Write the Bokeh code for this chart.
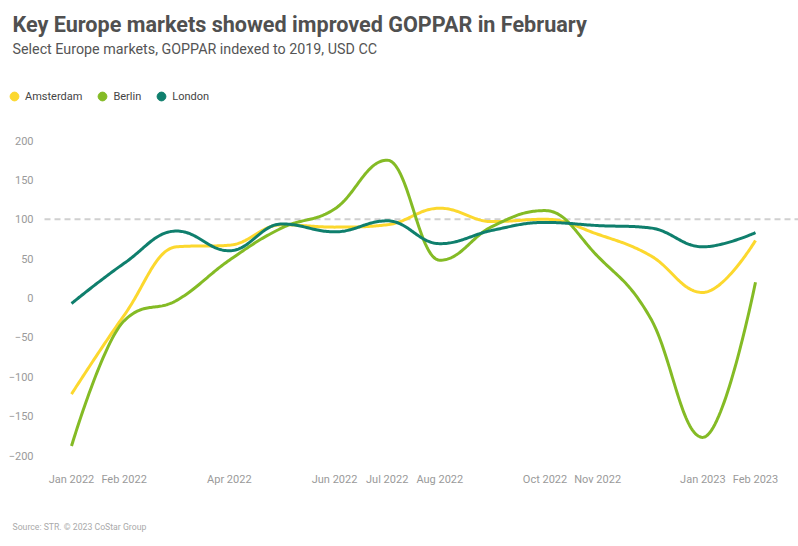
import numpy as np
from bokeh.plotting import figure
from bokeh.models import (Range1d, FixedTicker, Legend, LegendItem, Label)
from bokeh.embed import file_html
from bokeh.resources import INLINE

# ---- data ----
months = ["Jan 2022", "Feb 2022", "Mar 2022", "Apr 2022", "May 2022", "Jun 2022",
          "Jul 2022", "Aug 2022", "Sep 2022", "Oct 2022", "Nov 2022", "Dec 2022",
          "Jan 2023", "Feb 2023"]
amsterdam = [-122, -22, 65, 67, 93, 90, 93, 114, 97, 100, 81, 54, 7, 73]
berlin = [-188, -29, -3, 48, 89, 113, 175, 48, 91, 111, 53, -25, -177, 20]
london = [-7, 44, 85, 60, 94, 84, 98, 69, 86, 96, 92, 89, 65, 83]
shown_tick_labels = ["Jan 2022", "Feb 2022", "Apr 2022", "Jun 2022", "Jul 2022",
                     "Aug 2022", "Oct 2022", "Nov 2022", "Jan 2023", "Feb 2023"]
y_ticks = [-200, -150, -100, -50, 0, 50, 100, 150, 200]
reference_level = 100

series = [("Amsterdam", amsterdam, "#FCD82E"),
          ("Berlin", berlin, "#84BB25"),
          ("London", london, "#0F7F6D")]

TITLE = "Key Europe markets showed improved GOPPAR in February"
SUBTITLE = "Select Europe markets, GOPPAR indexed to 2019, USD CC"
SOURCE = "Source: STR. \u00a9 2023 CoStar Group"

FONT = "Roboto"


def spline(xs, ys, n=40):
    """Highcharts-style spline through the points."""
    sm = 1.5
    den = sm + 1
    N = len(xs)
    lc = [None] * N
    rc = [None] * N
    for i in range(1, N - 1):
        px, py = xs[i], ys[i]
        lx, ly = xs[i - 1], ys[i - 1]
        nx, ny = xs[i + 1], ys[i + 1]
        lcx = (sm * px + lx) / den
        lcy = (sm * py + ly) / den
        rcx = (sm * px + nx) / den
        rcy = (sm * py + ny) / den
        corr = ((rcy - lcy) * (rcx - px)) / (rcx - lcx) + py - rcy
        lcy += corr
        rcy += corr
        if lcy > ly and lcy > py:
            lcy = max(ly, py); rcy = 2 * py - lcy
        elif lcy < ly and lcy < py:
            lcy = min(ly, py); rcy = 2 * py - lcy
        if rcy > ny and rcy > py:
            rcy = max(ny, py); lcy = 2 * py - rcy
        elif rcy < ny and rcy < py:
            rcy = min(ny, py); lcy = 2 * py - rcy
        lc[i] = (lcx, lcy)
        rc[i] = (rcx, rcy)
    outx, outy = [xs[0]], [ys[0]]
    t = np.linspace(0, 1, n)[1:]
    for i in range(1, N):
        p0 = (xs[i - 1], ys[i - 1])
        c0 = rc[i - 1] if rc[i - 1] is not None else p0
        p3 = (xs[i], ys[i])
        c1 = lc[i] if lc[i] is not None else p3
        bx = (1 - t) ** 3 * p0[0] + 3 * (1 - t) ** 2 * t * c0[0] + 3 * (1 - t) * t ** 2 * c1[0] + t ** 3 * p3[0]
        by = (1 - t) ** 3 * p0[1] + 3 * (1 - t) ** 2 * t * c0[1] + 3 * (1 - t) * t ** 2 * c1[1] + t ** 3 * p3[1]
        outx.extend(bx.tolist())
        outy.extend(by.tolist())
    return outx, outy


# ---- geometry (page pixels) ----
W, H = 798, 546
PLOT_LEFT, PLOT_BOTTOM = 44, 462     # where the axes sit
PX_MONTH = 52.615                    # pixels per month
X0_PIX = 71                          # first month position
PX_UNIT = 0.7875                     # pixels per index point
Y200_PIX = 140                       # position of the value 200


def xval(px):
    return (px - X0_PIX) / PX_MONTH


def yval(py):
    return 200 - (py - Y200_PIX) / PX_UNIT


p = figure(width=W, height=H, output_backend="svg", toolbar_location=None,
           x_range=Range1d(xval(0), xval(W)), y_range=Range1d(yval(H), yval(0)),
           min_border=0, min_border_left=0, min_border_right=0,
           min_border_top=0, min_border_bottom=0)
p.outline_line_color = None
p.grid.visible = False

xs = list(range(len(months)))
tick_pos = [months.index(m) for m in shown_tick_labels]
p.xaxis.ticker = FixedTicker(ticks=tick_pos)
p.xaxis.major_label_overrides = {months.index(m): m for m in shown_tick_labels}
p.yaxis.ticker = FixedTicker(ticks=y_ticks)
p.xaxis.fixed_location = yval(PLOT_BOTTOM)
p.yaxis.fixed_location = xval(PLOT_LEFT)
for ax in (p.xaxis, p.yaxis):
    ax.axis_line_color = None
    ax.major_tick_line_color = None
    ax.minor_tick_line_color = None
    ax.major_tick_out = 0
    ax.major_tick_in = 0
    ax.major_label_text_font = FONT
    ax.major_label_text_font_size = "11px"
    ax.major_label_text_color = "#9a9a9a"
p.xaxis.major_label_standoff = 10
p.yaxis.major_label_standoff = 11

# dashed reference line across the plot area
p.line([xval(PLOT_LEFT), xval(W)], [reference_level, reference_level],
       line_color="#d0d0d0", line_width=2, line_dash="6 4")

items = []
for name, vals, col in series:
    sx, sy = spline(xs, vals)
    p.line(sx, sy, line_color=col, line_width=3, line_join="round")
    r = p.scatter([np.nan], [np.nan], size=9, fill_color=col, line_color=col)
    items.append(LegendItem(label=name, renderers=[r]))

legend = Legend(items=items, orientation="horizontal", location=(3, H - 107),
                glyph_width=22, glyph_height=22, label_height=22, label_standoff=0,
                spacing=9, padding=0, margin=0, border_line_color=None,
                background_fill_alpha=0, label_text_font=FONT,
                label_text_font_size="11px", label_text_color="#444444")
p.add_layout(legend, "center")

p.add_layout(Label(x=12, y=H - 24, x_units="screen", y_units="screen", text=TITLE,
                   text_font=FONT, text_font_size="21.6px", text_font_style="bold",
                   text_color="#505050", text_baseline="middle"))
p.add_layout(Label(x=12, y=H - 48, x_units="screen", y_units="screen", text=SUBTITLE,
                   text_font=FONT, text_font_size="14.3px",
                   text_color="#555555", text_baseline="middle"))
p.add_layout(Label(x=12, y=H - 526, x_units="screen", y_units="screen", text=SOURCE,
                   text_font=FONT, text_font_size="8.7px",
                   text_color="#aaaaaa", text_baseline="middle"))

open("out.html", "w").write(file_html(p, INLINE))
